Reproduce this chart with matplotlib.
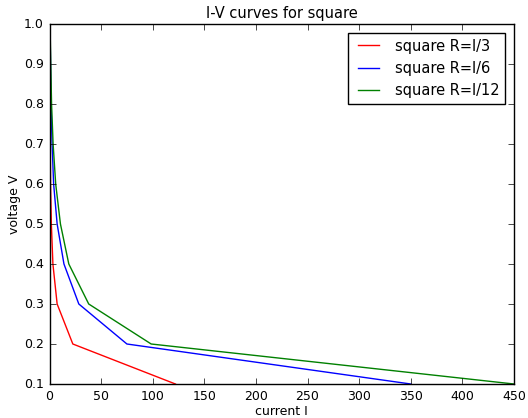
import matplotlib
matplotlib.use("Agg")
import matplotlib.pyplot as plt

plt.style.use("classic")

# voltage steps and measured currents for each resistance
voltage = [0.1, 0.2, 0.3, 0.4, 0.5, 0.6, 0.7, 0.8, 0.9, 1.0]
current_r3 = [122, 22.6, 7.4, 3.3, 1.8, 1.0, 0.7, 0.5, 0.3, 0.2]
current_r6 = [350, 75, 28.4, 14, 7.4, 4.0, 2.5, 1.5, 1.0, 0.5]
current_r12 = [450, 98.5, 38, 18.7, 10.6, 6.0, 3.5, 2.0, 1.2, 0.5]

W, H = 528, 418
fig = plt.figure(figsize=(W / 100, H / 100), dpi=100)
ax = fig.add_axes([49.5 / W, (H - 384) / H, 464.5 / W, 360 / H])

ax.plot(current_r3, voltage, color="r", lw=1.0, label="square R=l/3")
ax.plot(current_r6, voltage, color="b", lw=1.0, label="square R=l/6")
ax.plot(current_r12, voltage, color="g", lw=1.0, label="square R=l/12")

ax.set_xlim(0, 450)
ax.set_ylim(0.1, 1.0)
ax.set_xticks(range(0, 451, 50))
ax.set_yticks([0.1, 0.2, 0.3, 0.4, 0.5, 0.6, 0.7, 0.8, 0.9, 1.0])
ax.tick_params(labelsize=9, pad=4)
ax.set_xlabel("current I", fontsize=9, labelpad=2)
ax.set_ylabel("voltage V", fontsize=9, labelpad=2)
ax.set_title("I-V curves for square", fontsize=10.5, pad=4)
ax.legend(loc="upper right", fontsize=10.5, borderaxespad=0.6)

fig.savefig("out.png", dpi=100)
